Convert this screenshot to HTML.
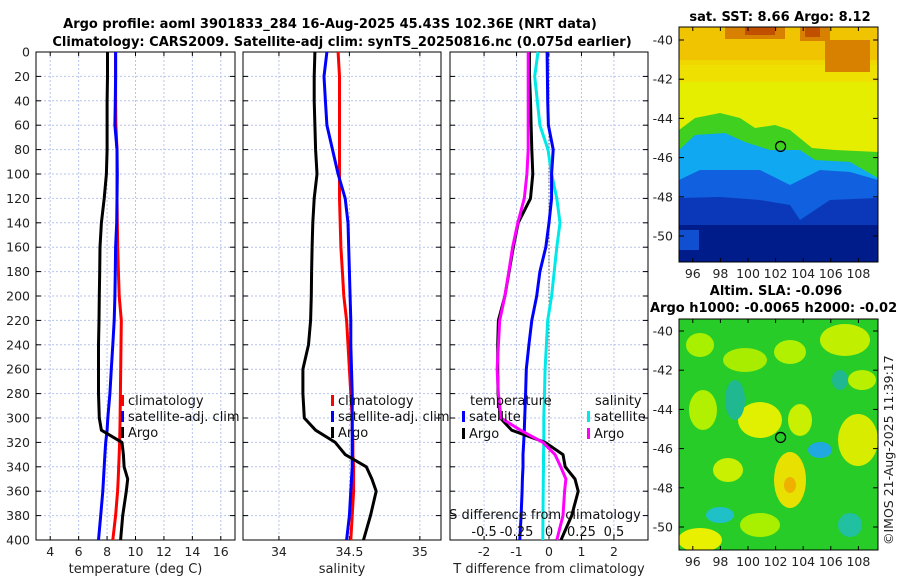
<!DOCTYPE html>
<html><head><meta charset="utf-8"><style>
body{margin:0;background:#fff;width:900px;height:580px;overflow:hidden}
svg text{font-family:"DejaVu Sans","Liberation Sans",sans-serif}
</style></head><body>
<svg id="s" width="900" height="580" xmlns="http://www.w3.org/2000/svg">
<text x="330" y="28" font-size="13" font-weight="bold" text-anchor="middle">Argo profile: aoml 3901833_284 16-Aug-2025 45.43S 102.36E (NRT data)</text>
<text x="342" y="46" font-size="13" font-weight="bold" text-anchor="middle">Climatology: CARS2009. Satellite-adj clim: synTS_20250816.nc (0.075d earlier)</text>
<g id="maps"></g>
<g id="plots"></g>
</svg>
<script>
const depths=[0,20,40,60,80,100,120,140,160,180,200,220,240,260,280,300,310,320,330,340,350,360,380,400];
// temperature (deg C)
const tArgo=[8.03,8.03,8.0,8.0,8.0,7.95,7.8,7.6,7.5,7.48,7.45,7.43,7.4,7.4,7.4,7.45,7.6,9.05,9.15,9.2,9.45,9.35,9.1,8.95];
const tClim=[8.6,8.6,8.6,8.62,8.7,8.7,8.7,8.72,8.75,8.8,8.85,9.0,8.98,8.96,8.94,8.92,8.9,8.88,8.85,8.82,8.78,8.74,8.6,8.4];
const tSat=[8.6,8.6,8.58,8.55,8.7,8.72,8.7,8.68,8.6,8.58,8.55,8.5,8.4,8.3,8.2,8.05,8.0,7.9,7.85,7.8,7.75,7.7,7.55,7.4];
// salinity
const sArgo=[34.255,34.25,34.25,34.255,34.26,34.27,34.25,34.24,34.235,34.232,34.23,34.225,34.21,34.17,34.17,34.18,34.26,34.4,34.47,34.62,34.66,34.69,34.65,34.6];
const sClim=[34.42,34.43,34.43,34.43,34.43,34.43,34.43,34.435,34.44,34.45,34.46,34.48,34.49,34.5,34.51,34.52,34.52,34.525,34.525,34.53,34.53,34.53,34.52,34.51];
const sSat=[34.34,34.32,34.33,34.34,34.38,34.42,34.47,34.49,34.495,34.5,34.505,34.51,34.51,34.515,34.52,34.52,34.52,34.52,34.52,34.52,34.515,34.51,34.5,34.48];
// differences (T diff in deg C; S diff in psu, drawn on 4x scale)
const dTArgo=[-0.6,-0.6,-0.57,-0.55,-0.53,-0.5,-0.57,-0.95,-1.1,-1.23,-1.36,-1.56,-1.58,-1.58,-1.57,-1.5,-1.15,-0.12,0.43,0.5,0.8,0.9,0.7,0.37];
const dTSat=[-0.06,-0.05,-0.04,-0.02,0.13,0.08,0.08,0.0,-0.1,-0.28,-0.38,-0.53,-0.62,-0.7,-0.72,-0.75,-0.76,-0.78,-0.8,-0.8,-0.82,-0.83,-0.86,-0.9];
const dSArgo=[-0.16,-0.16,-0.16,-0.16,-0.16,-0.17,-0.19,-0.24,-0.28,-0.31,-0.34,-0.38,-0.39,-0.4,-0.39,-0.37,-0.22,-0.046,0.046,0.09,0.13,0.12,0.108,0.06];
const dSSat=[-0.085,-0.11,-0.09,-0.07,-0.008,0.02,0.06,0.085,0.06,0.04,0.02,-0.01,-0.02,-0.03,-0.035,-0.04,-0.04,-0.04,-0.042,-0.042,-0.044,-0.045,-0.046,-0.048];
const depthTicks=[0,20,40,60,80,100,120,140,160,180,200,220,240,260,280,300,320,340,360,380,400];
const tTicks=[4,6,8,10,12,14,16];
const sTicks=[34,34.5,35];
const dTicks=[-2,-1,0,1,2];
const dsTicks=[-0.5,-0.25,0,0.25,0.5];

const NS="http://www.w3.org/2000/svg";
function mk(tag,attrs,parent){const e=document.createElementNS(NS,tag);for(const k in attrs)e.setAttribute(k,attrs[k]);(parent||document.getElementById('plots')).appendChild(e);return e;}
const Y0=52,Y1=540;
const yD=d=>Y0+(d/400)*(Y1-Y0);
function panel(x0,x1,vmin,vmax,name){
  const xs=v=>x0+(v-vmin)/(vmax-vmin)*(x1-x0);
  return {x0,x1,xs,name};
}
const P1=panel(36,235,3,17,'temperature');
const P2=panel(243,441,33.745,35.15,'salinity');
const P3=panel(450,648,-3.05,3.05,'tdiff');
function frame(P,ticks,title,tickLeftLabels){
  const g=mk('g',{});
  
  
  ticks.forEach(t=>{const x=P.xs(t);const l=mk('line',{x1:x,x2:x,y1:Y0,y2:Y1,stroke:'#b8c4ee','stroke-width':1,'stroke-dasharray':'2,2'},g);
    const tx=mk('text',{x:x,y:556,'font-size':12.5,'text-anchor':'middle',fill:'#222'},g);tx.textContent=t;
    mk('line',{x1:x,x2:x,y1:Y1,y2:Y1-4,stroke:'#000'},g);mk('line',{x1:x,x2:x,y1:Y0,y2:Y0+4,stroke:'#000'},g);});
  depthTicks.forEach(d=>{const y=yD(d);mk('line',{x1:P.x0,x2:P.x1,y1:y,y2:y,stroke:'#b8c4ee','stroke-width':1,'stroke-dasharray':'2,2'},g);
    mk('line',{x1:P.x0,x2:P.x0+5,y1:y,y2:y,stroke:'#000'},g);mk('line',{x1:P.x1,x2:P.x1-5,y1:y,y2:y,stroke:'#000'},g);
    if(tickLeftLabels){const t=mk('text',{x:30,y:y+4.5,'font-size':12.5,'text-anchor':'end',fill:'#222'},g);t.textContent=d;}});
  mk('rect',{x:P.x0,y:Y0,width:P.x1-P.x0,height:Y1-Y0,fill:'none',stroke:'#000','stroke-width':1},g);
  const tt=mk('text',{x:(P.x0+P.x1)/2,y:573,'font-size':13,'text-anchor':'middle',fill:'#222'},g);tt.textContent=title;
  return g;
}
function line(P,vals,color,name,scale){
  const pts=depths.map((d,i)=>P.xs(vals[i]*(scale||1)).toFixed(1)+','+yD(d).toFixed(1)).join(' ');
  const l=mk('polyline',{points:pts,fill:'none',stroke:color,'stroke-width':3,'stroke-linejoin':'round'});
  
  
}
function legItem(x,y,color,label,name){
  const g=mk('g',{});
  
  
  mk('rect',{x:x,y:y-10,width:3,height:11,fill:color},g);
  const t=mk('text',{x:x+7,y:y,'font-size':13,fill:'#111'},g);t.textContent=label;
}
frame(P1,tTicks,'temperature (deg C)',true);
frame(P2,sTicks,'salinity',false);
frame(P3,dTicks,'T difference from climatology',false);
const z=mk('line',{x1:P3.xs(0),x2:P3.xs(0),y1:Y0,y2:Y1,stroke:'#555','stroke-dasharray':'1.5,2'});


line(P1,tClim,'#ff0000','temp-climatology-line');
line(P1,tSat,'#0000ff','temp-satellite-line');
line(P1,tArgo,'#000','temp-argo-line');
line(P2,sClim,'#ff0000','sal-climatology-line');
line(P2,sSat,'#0000ff','sal-satellite-line');
line(P2,sArgo,'#000','sal-argo-line');
line(P3,dSSat,'#00e8e8','sdiff-satellite-line',4);
line(P3,dTSat,'#0000ff','tdiff-satellite-line');
line(P3,dTArgo,'#000','tdiff-argo-line');
line(P3,dSArgo,'#ff00ff','sdiff-argo-line',4);
legItem(121,405,'#ff0000','climatology','legend-climatology');
legItem(121,421,'#0000ff','satellite-adj. clim','legend-satellite');
legItem(121,437,'#000','Argo','legend-argo');
legItem(331,405,'#ff0000','climatology','legend2-climatology');
legItem(331,421,'#0000ff','satellite-adj. clim','legend2-satellite');
legItem(331,437,'#000','Argo','legend2-argo');
{const t=mk('text',{x:470,y:405,'font-size':13,fill:'#111'});t.textContent='temperature';
 const t2=mk('text',{x:595,y:405,'font-size':13,fill:'#111'});t2.textContent='salinity';}
legItem(462,421,'#0000ff','satellite','legend-t-satellite');
legItem(462,438,'#000','Argo','legend-t-argo');
legItem(587,421,'#00e8e8','satellite','legend-s-satellite');
legItem(587,438,'#ff00ff','Argo','legend-s-argo');
{const t=mk('text',{x:545,y:519,'font-size':13,'text-anchor':'middle',fill:'#111'});t.textContent='S difference from climatology';}
dsTicks.forEach(v=>{const t=mk('text',{x:P3.xs(v*4),y:536,'font-size':13,'text-anchor':'middle',fill:'#111'});t.textContent=v;});

// maps
const M=document.getElementById('maps');
function mapAxes(y0,y1,latTop,name){
  const g=mk('g',{},M);
  
  
  const xl=lon=>679+(lon-95)*13.8;
  const yl=lat=>latTop+(-40-lat)*19.6;
  [96,98,100,102,104,106,108].forEach(l=>{const x=xl(l);mk('line',{x1:x,x2:x,y1:y1,y2:y1-4,stroke:'#000'},g);mk('line',{x1:x,x2:x,y1:y0,y2:y0+4,stroke:'#000'},g);
    const t=mk('text',{x:x,y:y1+16,'font-size':12.5,'text-anchor':'middle',fill:'#222'},g);t.textContent=l;});
  [-40,-42,-44,-46,-48,-50].forEach(l=>{const y=yl(l);mk('line',{x1:679,x2:684,y1:y,y2:y,stroke:'#000'},g);mk('line',{x1:878,x2:873,y1:y,y2:y,stroke:'#000'},g);
    const t=mk('text',{x:673,y:y+4.5,'font-size':12.5,'text-anchor':'end',fill:'#222'},g);t.textContent=l;});
  mk('rect',{x:679,y:y0,width:199,height:y1-y0,fill:'none',stroke:'#000'},g);
  mk('circle',{cx:xl(102.36),cy:yl(-45.43),r:5,fill:'none',stroke:'#000','stroke-width':1.3},g);
}
M.innerHTML=`
<g>
<clipPath id="c1"><rect x="679" y="27" width="199" height="235"/></clipPath>
<g clip-path="url(#c1)">
<rect x="679" y="27" width="199" height="235" fill="#e6ee00"/>
<rect x="679" y="27" width="199" height="38" fill="#f0c400"/>
<rect x="679" y="60" width="199" height="22" fill="#f0dc00" opacity="0.8"/>
<path d="M725 27h60v12h-60z M800 27h30v14h-30z M825 40h45v32h-45z" fill="#d88000"/>
<path d="M745 27h30v8h-30z M805 27h15v10h-15z" fill="#c05000"/>
<path d="M679 130 L695 118 L720 113 L740 118 L755 128 L775 125 L790 130 L812 148 L835 150 L878 152 L878 262 L679 262 Z" fill="#40d020"/>
<path d="M679 150 L695 135 L725 133 L745 142 L770 150 L800 150 L815 160 L850 162 L878 178 L878 262 L679 262 Z" fill="#10a8f0"/>
<path d="M679 180 L700 170 L725 170 L760 170 L790 185 L820 170 L850 172 L878 180 L878 262 L679 262 Z" fill="#1060e0"/>
<path d="M679 198 L720 197 L760 200 L790 205 L800 220 L830 200 L878 198 L878 262 L679 262 Z" fill="#0a38b8"/>
<rect x="679" y="225" width="199" height="37" fill="#001c8a"/>
<rect x="679" y="230" width="20" height="20" fill="#1050d0"/>
</g>
</g>
<g>
<clipPath id="c2"><rect x="679" y="319" width="199" height="231"/></clipPath>
<g clip-path="url(#c2)">
<rect x="679" y="319" width="199" height="231" fill="#28cc28"/>
<ellipse cx="700" cy="345" rx="14" ry="12" fill="#a8f000"/>
<ellipse cx="745" cy="360" rx="22" ry="12" fill="#a8ec00"/>
<ellipse cx="790" cy="352" rx="16" ry="12" fill="#b0f000"/>
<ellipse cx="845" cy="340" rx="25" ry="16" fill="#c0f000"/>
<ellipse cx="862" cy="380" rx="14" ry="10" fill="#b8f000"/>
<ellipse cx="703" cy="410" rx="14" ry="20" fill="#b0f000"/>
<ellipse cx="760" cy="420" rx="22" ry="18" fill="#e0f000"/>
<ellipse cx="800" cy="420" rx="12" ry="16" fill="#c8f000"/>
<ellipse cx="858" cy="440" rx="20" ry="26" fill="#d8ec00"/>
<ellipse cx="728" cy="470" rx="15" ry="12" fill="#c8f000"/>
<ellipse cx="790" cy="480" rx="16" ry="28" fill="#e8e000"/>
<ellipse cx="790" cy="485" rx="6" ry="8" fill="#f0b000"/>
<ellipse cx="760" cy="525" rx="20" ry="12" fill="#a8f000"/>
<ellipse cx="700" cy="540" rx="22" ry="12" fill="#e8f000"/>
<ellipse cx="735" cy="400" rx="10" ry="20" fill="#20b890"/>
<ellipse cx="820" cy="450" rx="12" ry="8" fill="#20a8e0"/>
<ellipse cx="720" cy="515" rx="14" ry="8" fill="#20c0c8"/>
<ellipse cx="840" cy="380" rx="8" ry="10" fill="#20b890"/>
<ellipse cx="850" cy="525" rx="12" ry="12" fill="#20c0a0"/>
</g>
</g>
<text x="780" y="21" font-size="13" font-weight="bold" text-anchor="middle">sat. SST: 8.66 Argo: 8.12</text>
<text x="776" y="295" font-size="13" font-weight="bold" text-anchor="middle">Altim. SLA: -0.096</text>
<text x="650" y="312" font-size="13" font-weight="bold">Argo h1000: -0.0065 h2000: -0.02</text>
<text transform="translate(893,545) rotate(-90)" font-size="12.5" fill="#222">©IMOS 21-Aug-2025 11:39:17</text>`;
mapAxes(27,262,40,'sst-map');
mapAxes(319,550,331,'sla-map');
</script>
</body></html>
